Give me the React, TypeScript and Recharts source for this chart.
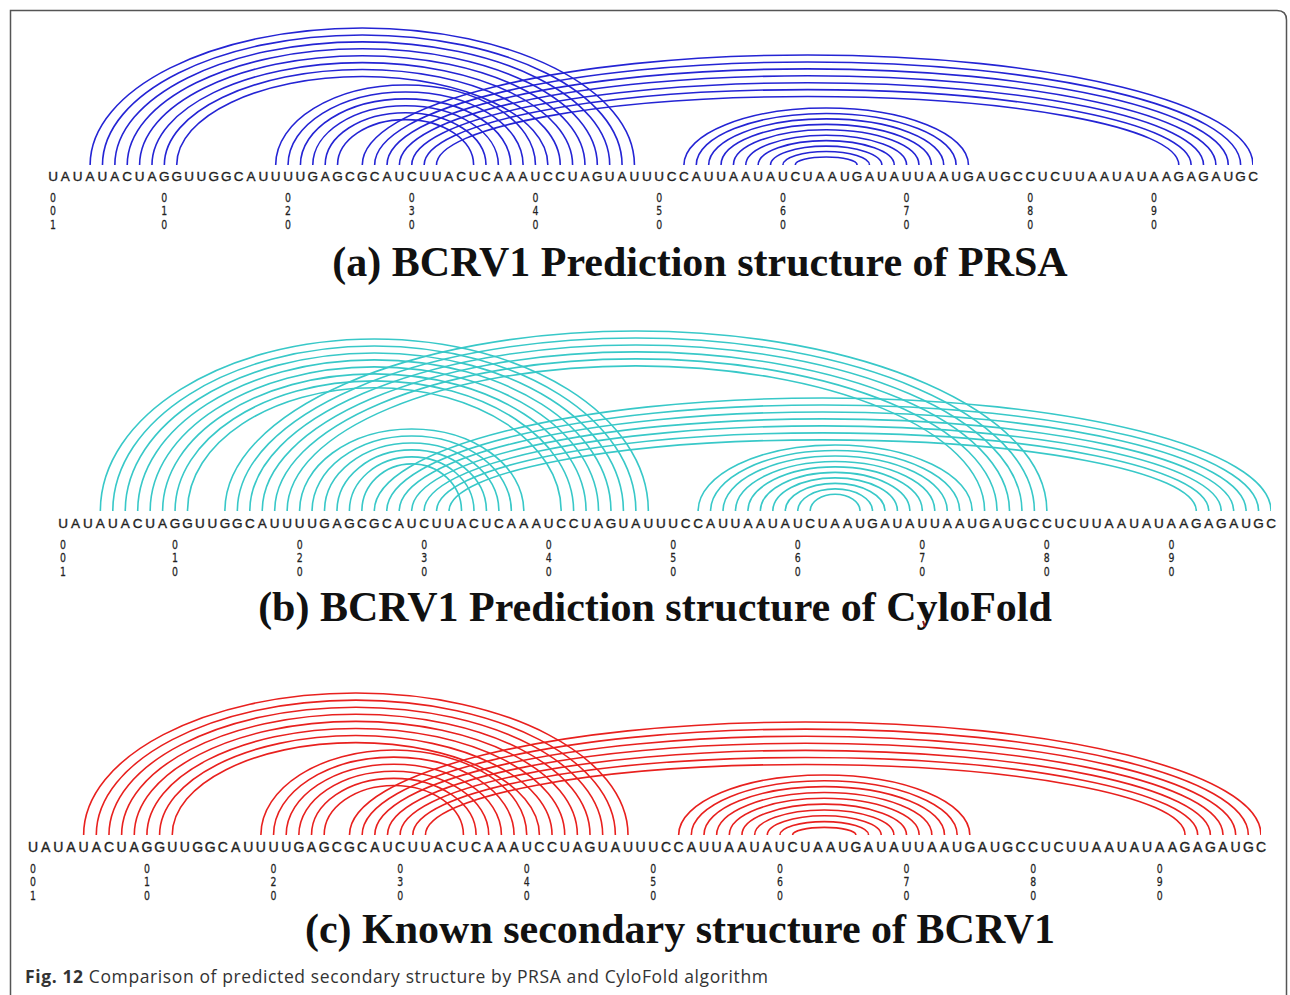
import React from 'react';
import { LineChart, Line, XAxis, YAxis } from 'recharts';

// BCRV1 sequence, 98 nt
const SEQUENCE = 'UAUAUACUAGGUUGGCAUUUUGAGCGCAUCUUACUCAAAUCCUAGUAUUUCCAUUAAUAUCUAAUGAUAUUAAUGAUGCCUCUUAAUAUAAGAGAUGC'.split('');
const POSITIONS = SEQUENCE.map((_, i) => i + 1);
const NUMBERED = [1, 10, 20, 30, 40, 50, 60, 70, 80, 90];

// (a) PRSA prediction: 5' side / 3' side of each stem
const PRSA_S1_5 = [4, 5, 6, 7, 8, 9, 10, 11];
const PRSA_S1_3 = [48, 47, 46, 45, 44, 43, 42, 41];
const PRSA_S2_5 = [19, 20, 21, 22, 23, 24];
const PRSA_S2_3 = [40, 39, 38, 37, 36, 35];
const PRSA_S3_5 = [26, 27, 28, 29, 30, 31, 32];
const PRSA_S3_3 = [98, 97, 96, 95, 94, 93, 92];
const PRSA_S4_5 = [52, 53, 54, 55, 56, 57, 58, 59, 60, 61];
const PRSA_S4_3 = [75, 74, 73, 72, 71, 70, 69, 68, 67, 66];

// (b) CyloFold prediction
const CYLO_S1_5 = [4, 5, 6, 7, 8, 9, 10, 11];
const CYLO_S1_3 = [48, 47, 46, 45, 44, 43, 42, 41];
const CYLO_S2_5 = [14, 15, 16, 17, 18, 19];
const CYLO_S2_3 = [80, 79, 78, 77, 76, 75];
const CYLO_S3_5 = [20, 21, 22, 23, 24, 25];
const CYLO_S3_3 = [38, 37, 36, 35, 34, 33];
const CYLO_S4_5 = [26, 27, 28, 29, 30, 31, 32];
const CYLO_S4_3 = [98, 97, 96, 95, 94, 93, 92];
const CYLO_S5_5 = [52, 53, 54, 55, 56, 57, 58, 59, 60, 61];
const CYLO_S5_3 = [74, 73, 72, 71, 70, 69, 68, 67, 66, 65];

// (c) known structure
const KNOWN_S1_5 = [5, 6, 7, 8, 9, 10, 11, 12];
const KNOWN_S1_3 = [48, 47, 46, 45, 44, 43, 42, 41];
const KNOWN_S2_5 = [19, 20, 21, 22, 23, 24];
const KNOWN_S2_3 = [40, 39, 38, 37, 36, 35];
const KNOWN_S3_5 = [26, 27, 28, 29, 30, 31, 32];
const KNOWN_S3_3 = [98, 97, 96, 95, 94, 93, 92];
const KNOWN_S4_5 = [52, 53, 54, 55, 56, 57, 58, 59, 60, 61];
const KNOWN_S4_3 = [75, 74, 73, 72, 71, 70, 69, 68, 67, 66];

const pairPoints = (five: number[], three: number[]) =>
  five.flatMap((p, k) => [{ x: p, y: 0 }, { x: three[k], y: 0 }]);

// curve that turns every two consecutive points into a half ellipse
const arcCurve = (outer: number, slope: number) => (context: any) => {
  let pts: number[][] = [];
  return {
    areaStart() {},
    areaEnd() {},
    lineStart() { pts = []; },
    point(x: number, y: number) { pts.push([+x, +y]); },
    lineEnd() {
      let maxW = 0;
      for (let k = 0; k + 1 < pts.length; k += 2) maxW = Math.max(maxW, Math.abs(pts[k + 1][0] - pts[k][0]));
      for (let k = 0; k + 1 < pts.length; k += 2) {
        const [x0, y0] = pts[k];
        const x1 = pts[k + 1][0];
        const w = x1 - x0;
        const h = Math.max(3, outer - slope * (maxW - Math.abs(w)));
        const cx = (x0 + x1) / 2;
        const rx = w / 2;
        const top = y0 - h;
        const K = 0.5523;
        context.moveTo(x0, y0);
        context.bezierCurveTo(x0, y0 - K * h, cx - K * rx, top, cx, top);
        context.bezierCurveTo(cx + K * rx, top, x1, y0 - K * h, x1, y0);
      }
    },
  };
};

interface Stem { five: number[]; three: number[]; outer: number; slope: number }

interface PanelProps {
  baseline: number;
  left: number;
  right: number;
  color: string;
  stems: Stem[];
  letterDy: number;
  digitDy: number;
  fontSize: number;
}

const PLOT_H = 200;
const AXIS_H = 75;

const ArcPanel: React.FC<PanelProps> = ({ baseline, left, right, color, stems, letterDy, digitDy, fontSize }) => {
  const SeqTick = (props: any) => {
    const { x, y, payload } = props;
    const pos = payload.value as number;
    const numbered = NUMBERED.includes(pos);
    return (
      <g>
        <text x={x} y={y + letterDy} textAnchor="middle" fontSize={fontSize} fill="#222" stroke="#222" strokeWidth={0.35}
          fontFamily="'Liberation Sans', Arial, sans-serif">{SEQUENCE[pos - 1]}</text>
        {numbered && (
          <text x={x} y={y + digitDy} fontSize={13} fill="#222" stroke="#222" strokeWidth={0.25}
            fontFamily="'DejaVu Sans Condensed', 'Liberation Sans', sans-serif"
            transform={`translate(${x} 0) scale(0.8 1) translate(${-x} 0)`}
            style={{ writingMode: 'vertical-rl', textOrientation: 'upright', letterSpacing: '-2px' } as any}>
            {String(pos).padStart(3, '0')}
          </text>
        )}
      </g>
    );
  };

  return (
    <div style={{ position: 'absolute', left: 0, top: baseline - PLOT_H }}>
      <LineChart width={1290} height={PLOT_H + AXIS_H} margin={{ top: 0, right: 1290 - right, bottom: 0, left }}>
        <XAxis
          type="number"
          dataKey="x"
          domain={[1, 98]}
          ticks={POSITIONS}
          interval={0}
          height={AXIS_H}
          tickSize={0}
          tickMargin={0}
          axisLine={false}
          tickLine={false}
          tick={SeqTick}
          allowDataOverflow
        />
        <YAxis type="number" domain={[0, 1]} hide />
        {stems.map((s, k) => (
          <Line
            key={k}
            data={pairPoints(s.five, s.three)}
            dataKey="y"
            type={arcCurve(s.outer, s.slope) as any}
            stroke={color}
            strokeWidth={1.6}
            dot={false}
            activeDot={false}
            isAnimationActive={false}
          />
        ))}
      </LineChart>
    </div>
  );
};

const TITLE_FONT = "'Liberation Serif', 'Times New Roman', serif";

export default function App() {
  return (
    <div style={{ position: 'absolute', left: 0, top: 0, width: 1290, height: 995, background: '#fff', overflow: 'hidden' }}>
      <ArcPanel
        baseline={165}
        left={53}
        right={1253}
        color="#2424d4"
        letterDy={15.5}
        digitDy={24.5}
        fontSize={13.5}
        stems={[
          { five: PRSA_S1_5, three: PRSA_S1_3, outer: 137, slope: 0.28 },
          { five: PRSA_S2_5, three: PRSA_S2_3, outer: 80, slope: 0.28 },
          { five: PRSA_S3_5, three: PRSA_S3_3, outer: 110, slope: 0.28 },
          { five: PRSA_S4_5, three: PRSA_S4_3, outer: 57, slope: 0.22 },
        ]}
      />
      <ArcPanel
        baseline={511}
        left={63}
        right={1271}
        color="#38c8c8"
        letterDy={16.5}
        digitDy={25.5}
        fontSize={13.5}
        stems={[
          { five: CYLO_S1_5, three: CYLO_S1_3, outer: 172, slope: 0.28 },
          { five: CYLO_S2_5, three: CYLO_S2_3, outer: 180, slope: 0.28 },
          { five: CYLO_S3_5, three: CYLO_S3_3, outer: 82, slope: 0.28 },
          { five: CYLO_S4_5, three: CYLO_S4_3, outer: 113, slope: 0.28 },
          { five: CYLO_S5_5, three: CYLO_S5_3, outer: 66, slope: 0.22 },
        ]}
      />
      <ArcPanel
        baseline={835}
        left={33}
        right={1261}
        color="#e8201e"
        letterDy={16.5}
        digitDy={25.5}
        fontSize={14}
        stems={[
          { five: KNOWN_S1_5, three: KNOWN_S1_3, outer: 142, slope: 0.28 },
          { five: KNOWN_S2_5, three: KNOWN_S2_3, outer: 85, slope: 0.28 },
          { five: KNOWN_S3_5, three: KNOWN_S3_3, outer: 113, slope: 0.28 },
          { five: KNOWN_S4_5, three: KNOWN_S4_3, outer: 60, slope: 0.23 },
        ]}
      />
      <svg width={1290} height={995} style={{ position: 'absolute', left: 0, top: 0, pointerEvents: 'none' }}>
        <path d="M10.5 995 V10.5 H1277 Q1286.5 10.5 1286.5 20 V995" fill="none" stroke="#555" strokeWidth={1.5} />
        <text x={700} y={276} textAnchor="middle" fontFamily={TITLE_FONT} fontWeight="bold" fontSize={42} fill="#111">
          (a) BCRV1 Prediction structure of PRSA
        </text>
        <text x={655} y={621} textAnchor="middle" fontFamily={TITLE_FONT} fontWeight="bold" fontSize={42} fill="#111">
          (b) BCRV1 Prediction structure of CyloFold
        </text>
        <path d="M923 621 L925 627" stroke="#8b1a1a" strokeWidth={2} />
        <text x={680} y={943} textAnchor="middle" fontFamily={TITLE_FONT} fontWeight="bold" fontSize={42} fill="#111">
          (c) Known secondary structure of BCRV1
        </text>
        <text x={25} y={983} fontFamily="'Open Sans', 'Noto Sans', sans-serif" fontSize={17.5} fill="#333"
          textLength={743} lengthAdjust="spacing">
          <tspan fontWeight="bold">Fig. 12</tspan>
          <tspan> Comparison of predicted secondary structure by PRSA and CyloFold algorithm</tspan>
        </text>
      </svg>
    </div>
  );
}
